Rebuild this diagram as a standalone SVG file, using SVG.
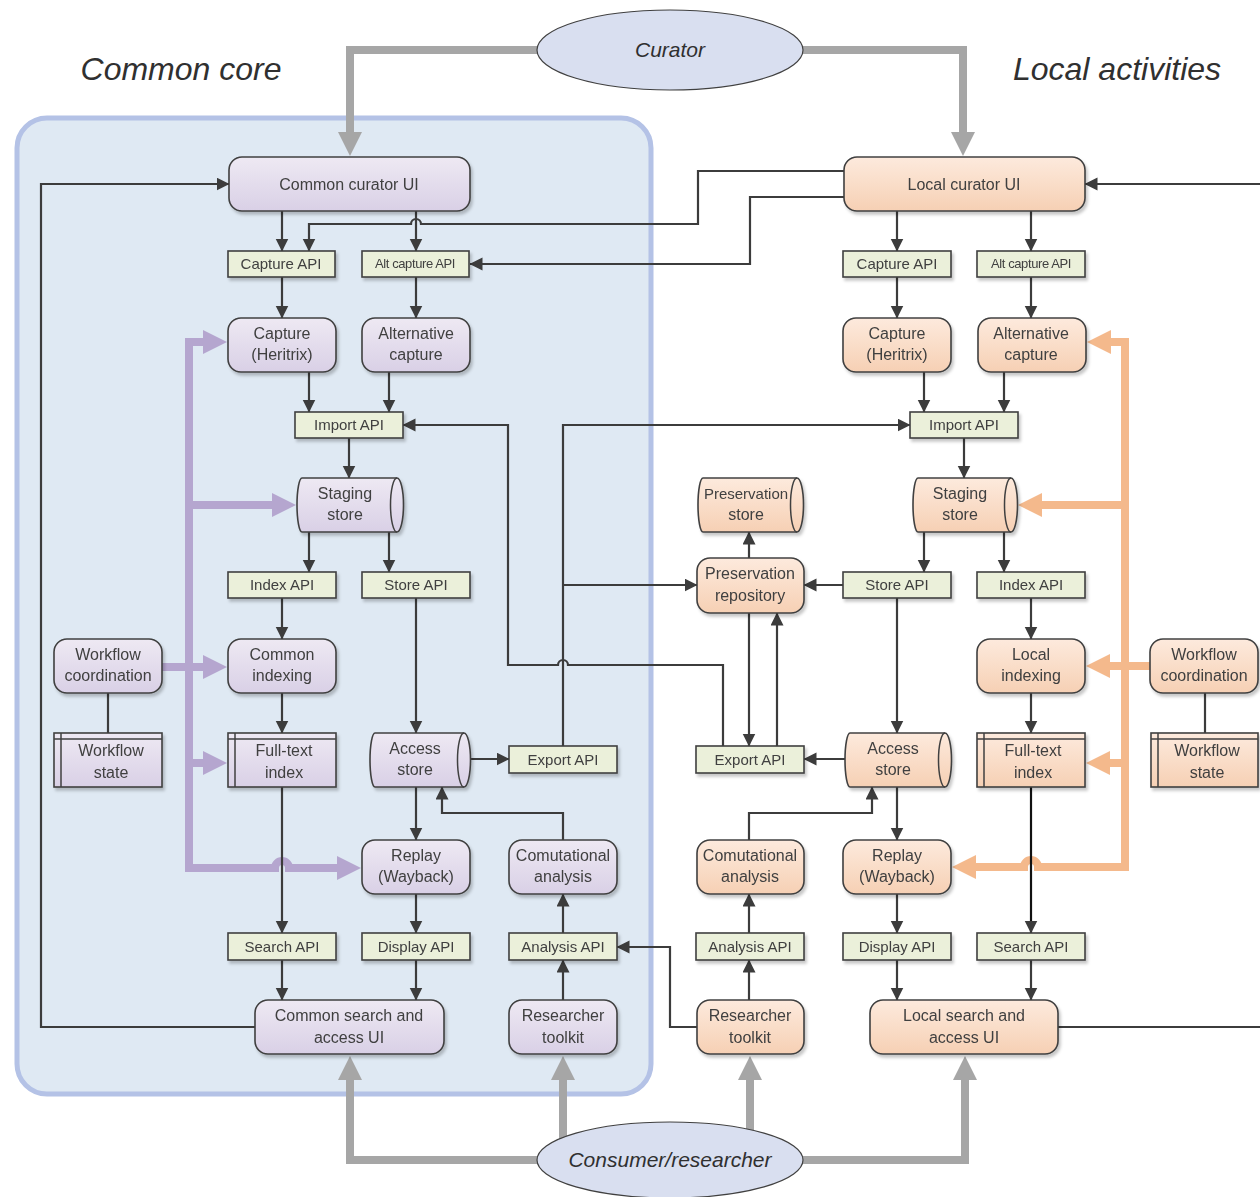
<svg xmlns="http://www.w3.org/2000/svg" width="1260" height="1197" viewBox="0 0 1260 1197">
<style>
.t{font-family:"Liberation Sans",Arial,sans-serif;font-size:16px;fill:#404040;text-anchor:middle}
.ta{font-family:"Liberation Sans",Arial,sans-serif;font-size:15px;fill:#404040;text-anchor:middle}
.ts{font-family:"Liberation Sans",Arial,sans-serif;font-size:13px;fill:#404040;text-anchor:middle;letter-spacing:-0.4px}
.ti{font-family:"Liberation Sans",Arial,sans-serif;font-style:italic;fill:#303030;text-anchor:middle}
.p{fill:url(#gP);stroke:#404040;stroke-width:1.6}
.o{fill:url(#gO);stroke:#404040;stroke-width:1.6}
.api{fill:#ebf0da;stroke:#404040;stroke-width:1.6}
.ln{fill:none;stroke:#404040;stroke-width:1.5}
.c{fill:none;stroke:#3c3c3c;stroke-width:2.2}
.ca{fill:none;stroke:#3c3c3c;stroke-width:2.2;marker-end:url(#a)}
.g{fill:none;stroke:#a6a6a6;stroke-width:8;marker-end:url(#ag)}
.pua{fill:none;stroke:#b5a6cf;stroke-width:8;marker-end:url(#ap)}
.ora{fill:none;stroke:#f4b98c;stroke-width:8;marker-end:url(#ao)}
.el{fill:#d9dff0;stroke:#404040;stroke-width:1.2}
.sh{filter:url(#sh)}
</style>
<defs>
<linearGradient id="gP" x1="0" y1="0" x2="0" y2="1"><stop offset="0" stop-color="#eee9f3"/><stop offset="1" stop-color="#d9d0e6"/></linearGradient>
<linearGradient id="gO" x1="0" y1="0" x2="0" y2="1"><stop offset="0" stop-color="#fdeadd"/><stop offset="1" stop-color="#f6d0b4"/></linearGradient>
<filter id="sh" x="-10%" y="-10%" width="130%" height="140%"><feDropShadow dx="2" dy="3" stdDeviation="1.5" flood-color="#000" flood-opacity="0.22"/></filter>
<marker id="a" markerUnits="userSpaceOnUse" markerWidth="14" markerHeight="14" refX="12.5" refY="6.5" orient="auto"><path d="M0,0 L13,6.5 L0,13 Z" fill="#3c3c3c"/></marker>
<marker id="ag" markerUnits="userSpaceOnUse" markerWidth="25" markerHeight="25" refX="1" refY="12" orient="auto"><path d="M0,0 L24,12 L0,24 Z" fill="#a6a6a6"/></marker>
<marker id="ap" markerUnits="userSpaceOnUse" markerWidth="25" markerHeight="25" refX="1" refY="12" orient="auto"><path d="M0,0 L24,12 L0,24 Z" fill="#b5a6cf"/></marker>
<marker id="ao" markerUnits="userSpaceOnUse" markerWidth="25" markerHeight="25" refX="1" refY="12" orient="auto"><path d="M0,0 L24,12 L0,24 Z" fill="#f4b98c"/></marker>
</defs>
<rect width="1260" height="1197" fill="#ffffff"/>
<g id="common-core-area">
<rect x="17" y="118" width="634" height="976" rx="30" fill="#dfe9f3" stroke="#b4c2e6" stroke-width="5"/>
<text class="ti" x="181" y="80" font-size="32">Common core</text>
<text class="ti" x="1117" y="80" font-size="32">Local activities</text>
</g>
<g id="connectors">
<path class="g" d="M537,50 H350 V133"/>
<path class="g" d="M803,50 H963 V133"/>
<path class="g" d="M540,1160 H350 V1079"/>
<path class="g" d="M563,1140 V1079"/>
<path class="g" d="M750,1136 V1079"/>
<path class="g" d="M800,1160 H965 V1079"/>
<path class="pua" d="M189,342 V868 H275 a7,7 0 0 1 14,0 H338"/>
<path class="pua" d="M185,342 H204"/>
<path class="pua" d="M189,505 H273"/>
<path class="pua" d="M162,667 H204"/>
<path class="pua" d="M189,763 H204"/>
<path class="ora" d="M1125,342 V867 H1038 a7,7 0 0 0 -14,0 H975"/>
<path class="ora" d="M1129,342 H1110"/>
<path class="ora" d="M1125,505 H1041"/>
<path class="ora" d="M1150,666 H1109"/>
<path class="ora" d="M1125,763 H1109"/>
<path class="ca" d="M282,211 V251"/>
<path class="ca" d="M416,211 V251"/>
<path class="ca" d="M844,171 H698 V224 H421 a5,5 0 0 0 -10,0 H309 V251"/>
<path class="ca" d="M844,197 H750 V264 H470"/>
<path class="ca" d="M282,277 V318"/>
<path class="ca" d="M416,277 V318"/>
<path class="ca" d="M309,372 V412"/>
<path class="ca" d="M389,372 V412"/>
<path class="ca" d="M349,438 V478"/>
<path class="ca" d="M309,532 V572"/>
<path class="ca" d="M389,532 V572"/>
<path class="ca" d="M282,598 V639"/>
<path class="ca" d="M282,693 V733"/>
<path class="ca" d="M416,598 V733"/>
<path class="ca" d="M470,759 H509"/>
<path class="ca" d="M416,787 V840"/>
<path class="ca" d="M282,787 V933"/>
<path class="ca" d="M416,894 V933"/>
<path class="ca" d="M282,960 V1000"/>
<path class="ca" d="M416,960 V1000"/>
<path class="ca" d="M563,1000 V960"/>
<path class="ca" d="M563,933 V894"/>
<path class="ca" d="M563,840 V813 H442 V787"/>
<path class="ca" d="M255,1027 H41 V184 H229"/>
<path class="ca" d="M563,746 V425 H910"/>
<path class="ca" d="M563,585 H697"/>
<path class="ca" d="M723,746 V665 H568 a5,5 0 0 0 -10,0 H508 V425 H403"/>
<path class="c" d="M108,693 V733"/>
<path class="ca" d="M1262,184 H1085"/>
<path class="c" d="M1058,1027 H1262"/>
<path class="ca" d="M897,211 V251"/>
<path class="ca" d="M1031,211 V251"/>
<path class="ca" d="M897,277 V318"/>
<path class="ca" d="M1031,277 V318"/>
<path class="ca" d="M924,372 V412"/>
<path class="ca" d="M1004,372 V412"/>
<path class="ca" d="M964,438 V478"/>
<path class="ca" d="M924,532 V572"/>
<path class="ca" d="M1004,532 V572"/>
<path class="ca" d="M843,585 H804"/>
<path class="ca" d="M749,558 V532"/>
<path class="ca" d="M897,598 V733"/>
<path class="ca" d="M1031,598 V639"/>
<path class="ca" d="M1031,693 V733"/>
<path class="ca" d="M845,759 H804"/>
<path class="ca" d="M749,613 V746"/>
<path class="ca" d="M777,746 V613"/>
<path class="ca" d="M749,840 V813 H872 V787"/>
<path class="ca" d="M897,787 V840"/>
<path class="ca" d="M749,933 V894"/>
<path class="ca" d="M749,1000 V960"/>
<path class="ca" d="M697,1027 H670 V947 H617"/>
<path class="ca" d="M897,894 V933"/>
<path class="ca" d="M1031,787 V933" style="stroke:#111"/>
<path class="ca" d="M897,960 V1000"/>
<path class="ca" d="M1031,960 V1000"/>
<path class="c" d="M1205,693 V733"/>
</g>
<g id="curator">
<ellipse class="el" cx="670" cy="50" rx="133" ry="40"/>
<text class="ti" x="670" y="57" font-size="21">Curator</text>
</g>
<g id="consumer">
<ellipse class="el" cx="670" cy="1160" rx="133" ry="38"/>
<text class="ti" x="670" y="1167" font-size="21">Consumer/researcher</text>
</g>
<g id="common-curator-ui" class="sh"><rect class="p" x="229" y="157" width="241" height="54" rx="13"/><text class="t" x="349" y="190">Common curator UI</text></g>
<g id="capture-api-l" class="sh"><rect class="api" x="228" y="251" width="107" height="26"/><text class="ta" x="281" y="269">Capture API</text></g>
<g id="alt-capture-api-l" class="sh"><rect class="api" x="362" y="251" width="107" height="26"/><text class="ts" x="415" y="268">Alt capture API</text></g>
<g id="capture-l" class="sh"><rect class="p" x="228" y="318" width="108" height="54" rx="13"/><text class="t" x="282" y="339">Capture</text><text class="t" x="282" y="360">(Heritrix)</text></g>
<g id="alt-capture-l" class="sh"><rect class="p" x="362" y="318" width="108" height="54" rx="13"/><text class="t" x="416" y="339">Alternative</text><text class="t" x="416" y="360">capture</text></g>
<g id="import-api-l" class="sh"><rect class="api" x="295" y="412" width="108" height="26"/><text class="ta" x="349" y="430">Import API</text></g>
<g id="staging-l" class="sh"><path class="p" d="M302,478 H397 A6.5,27 0 0 1 397,532 H302 A5,27 0 0 1 302,478 Z"/><path class="ln" d="M397,478 A6.5,27 0 0 0 397,532"/><text class="t" x="345" y="499">Staging</text><text class="t" x="345" y="520">store</text></g>
<g id="index-api-l" class="sh"><rect class="api" x="228" y="572" width="108" height="26"/><text class="ta" x="282" y="590">Index API</text></g>
<g id="store-api-l" class="sh"><rect class="api" x="362" y="572" width="108" height="26"/><text class="ta" x="416" y="590">Store API</text></g>
<g id="workflow-coordination-l" class="sh"><rect class="p" x="54" y="639" width="108" height="54" rx="13"/><text class="t" x="108" y="660">Workflow</text><text class="t" x="108" y="681">coordination</text></g>
<g id="common-indexing" class="sh"><rect class="p" x="228" y="639" width="108" height="54" rx="13"/><text class="t" x="282" y="660">Common</text><text class="t" x="282" y="681">indexing</text></g>
<g id="workflow-state-l" class="sh"><rect class="p" x="54" y="733" width="108" height="54"/><path class="ln" d="M54,739 H162 M61,733 V787"/><text class="t" x="111" y="756">Workflow</text><text class="t" x="111" y="778">state</text></g>
<g id="fulltext-l" class="sh"><rect class="p" x="228" y="733" width="108" height="54"/><path class="ln" d="M228,739 H336 M235,733 V787"/><text class="t" x="284" y="756">Full-text</text><text class="t" x="284" y="778">index</text></g>
<g id="access-store-l" class="sh"><path class="p" d="M375,733 H464 A6.5,27 0 0 1 464,787 H375 A5,27 0 0 1 375,733 Z"/><path class="ln" d="M464,733 A6.5,27 0 0 0 464,787"/><text class="t" x="415" y="754">Access</text><text class="t" x="415" y="775">store</text></g>
<g id="export-api-l" class="sh"><rect class="api" x="509" y="746" width="108" height="27"/><text class="ta" x="563" y="765">Export API</text></g>
<g id="replay-l" class="sh"><rect class="p" x="362" y="840" width="108" height="54" rx="13"/><text class="t" x="416" y="861">Replay</text><text class="t" x="416" y="882">(Wayback)</text></g>
<g id="comp-analysis-l" class="sh"><rect class="p" x="509" y="840" width="108" height="54" rx="13"/><text class="t" x="563" y="861">Comutational</text><text class="t" x="563" y="882">analysis</text></g>
<g id="search-api-l" class="sh"><rect class="api" x="228" y="933" width="108" height="27"/><text class="ta" x="282" y="952">Search API</text></g>
<g id="display-api-l" class="sh"><rect class="api" x="362" y="933" width="108" height="27"/><text class="ta" x="416" y="952">Display API</text></g>
<g id="analysis-api-l" class="sh"><rect class="api" x="509" y="933" width="108" height="27"/><text class="ta" x="563" y="952">Analysis API</text></g>
<g id="common-search-ui" class="sh"><rect class="p" x="255" y="1000" width="189" height="54" rx="13"/><text class="t" x="349" y="1021">Common search and</text><text class="t" x="349" y="1043">access UI</text></g>
<g id="researcher-toolkit-l" class="sh"><rect class="p" x="509" y="1000" width="108" height="54" rx="13"/><text class="t" x="563" y="1021">Researcher</text><text class="t" x="563" y="1043">toolkit</text></g>
<g id="local-curator-ui" class="sh"><rect class="o" x="844" y="157" width="241" height="54" rx="13"/><text class="t" x="964" y="190">Local curator UI</text></g>
<g id="capture-api-r" class="sh"><rect class="api" x="843" y="251" width="108" height="26"/><text class="ta" x="897" y="269">Capture API</text></g>
<g id="alt-capture-api-r" class="sh"><rect class="api" x="977" y="251" width="108" height="26"/><text class="ts" x="1031" y="268">Alt capture API</text></g>
<g id="capture-r" class="sh"><rect class="o" x="843" y="318" width="108" height="54" rx="13"/><text class="t" x="897" y="339">Capture</text><text class="t" x="897" y="360">(Heritrix)</text></g>
<g id="alt-capture-r" class="sh"><rect class="o" x="978" y="318" width="108" height="54" rx="13"/><text class="t" x="1031" y="339">Alternative</text><text class="t" x="1031" y="360">capture</text></g>
<g id="import-api-r" class="sh"><rect class="api" x="910" y="412" width="108" height="26"/><text class="ta" x="964" y="430">Import API</text></g>
<g id="staging-r" class="sh"><path class="o" d="M918,478 H1011 A6.5,27 0 0 1 1011,532 H918 A5,27 0 0 1 918,478 Z"/><path class="ln" d="M1011,478 A6.5,27 0 0 0 1011,532"/><text class="t" x="960" y="499">Staging</text><text class="t" x="960" y="520">store</text></g>
<g id="preservation-store" class="sh"><path class="o" d="M703,478 H797 A6.5,27 0 0 1 797,532 H703 A5,27 0 0 1 703,478 Z"/><path class="ln" d="M797,478 A6.5,27 0 0 0 797,532"/><text class="t" x="746" y="499" style="font-size:15px">Preservation</text><text class="t" x="746" y="520">store</text></g>
<g id="preservation-repository" class="sh"><rect class="o" x="697" y="558" width="107" height="55" rx="13"/><text class="t" x="750" y="579">Preservation</text><text class="t" x="750" y="601">repository</text></g>
<g id="store-api-r" class="sh"><rect class="api" x="843" y="572" width="108" height="26"/><text class="ta" x="897" y="590">Store API</text></g>
<g id="index-api-r" class="sh"><rect class="api" x="977" y="572" width="108" height="26"/><text class="ta" x="1031" y="590">Index API</text></g>
<g id="local-indexing" class="sh"><rect class="o" x="977" y="639" width="108" height="54" rx="13"/><text class="t" x="1031" y="660">Local</text><text class="t" x="1031" y="681">indexing</text></g>
<g id="workflow-coordination-r" class="sh"><rect class="o" x="1150" y="639" width="108" height="54" rx="13"/><text class="t" x="1204" y="660">Workflow</text><text class="t" x="1204" y="681">coordination</text></g>
<g id="export-api-r" class="sh"><rect class="api" x="696" y="746" width="108" height="27"/><text class="ta" x="750" y="765">Export API</text></g>
<g id="access-store-r" class="sh"><path class="o" d="M850,733 H945 A6.5,27 0 0 1 945,787 H850 A5,27 0 0 1 850,733 Z"/><path class="ln" d="M945,733 A6.5,27 0 0 0 945,787"/><text class="t" x="893" y="754">Access</text><text class="t" x="893" y="775">store</text></g>
<g id="fulltext-r" class="sh"><rect class="o" x="977" y="733" width="108" height="54"/><path class="ln" d="M977,739 H1085 M984,733 V787"/><text class="t" x="1033" y="756">Full-text</text><text class="t" x="1033" y="778">index</text></g>
<g id="workflow-state-r" class="sh"><rect class="o" x="1151" y="733" width="107" height="54"/><path class="ln" d="M1151,739 H1258 M1158,733 V787"/><text class="t" x="1207" y="756">Workflow</text><text class="t" x="1207" y="778">state</text></g>
<g id="comp-analysis-r" class="sh"><rect class="o" x="697" y="840" width="107" height="54" rx="13"/><text class="t" x="750" y="861">Comutational</text><text class="t" x="750" y="882">analysis</text></g>
<g id="replay-r" class="sh"><rect class="o" x="843" y="840" width="108" height="54" rx="13"/><text class="t" x="897" y="861">Replay</text><text class="t" x="897" y="882">(Wayback)</text></g>
<g id="analysis-api-r" class="sh"><rect class="api" x="696" y="933" width="108" height="27"/><text class="ta" x="750" y="952">Analysis API</text></g>
<g id="display-api-r" class="sh"><rect class="api" x="843" y="933" width="108" height="27"/><text class="ta" x="897" y="952">Display API</text></g>
<g id="search-api-r" class="sh"><rect class="api" x="977" y="933" width="108" height="27"/><text class="ta" x="1031" y="952">Search API</text></g>
<g id="researcher-toolkit-r" class="sh"><rect class="o" x="697" y="1000" width="107" height="54" rx="13"/><text class="t" x="750" y="1021">Researcher</text><text class="t" x="750" y="1043">toolkit</text></g>
<g id="local-search-ui" class="sh"><rect class="o" x="870" y="1000" width="188" height="54" rx="13"/><text class="t" x="964" y="1021">Local search and</text><text class="t" x="964" y="1043">access UI</text></g>
</svg>
